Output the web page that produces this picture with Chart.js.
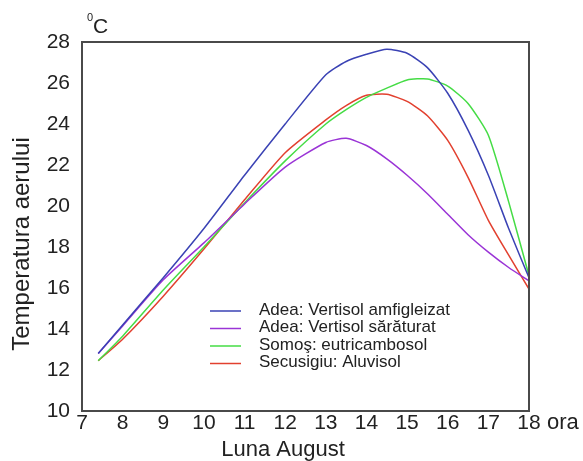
<!DOCTYPE html>
<html><head><meta charset="utf-8">
<script src="https://cdn.jsdelivr.net/npm/chart.js@4/dist/chart.umd.min.js"></script>
<style>html,body{margin:0;padding:0;background:#fff}</style>
</head><body>
<canvas id="c" width="583" height="461"></canvas>
<script>
// ---- data ----
const hours = [7.4, 8, 9, 10, 11, 12, 13, 13.5, 14, 14.5, 15, 15.5, 16, 16.5, 17, 17.5, 18];
const adeaAmfigleizat = [12.8, 14.2, 16.5, 18.9, 21.5, 24.0, 26.4, 27.05, 27.4, 27.65, 27.45, 26.75, 25.5, 23.7, 21.5, 18.9, 16.5];
const adeaSaraturat  = [12.8, 14.15, 16.4, 18.2, 20.1, 21.9, 23.1, 23.3, 22.95, 22.3, 21.5, 20.6, 19.6, 18.6, 17.75, 17.0, 16.35];
const somosEutricambosol = [12.45, 13.65, 15.9, 18.0, 20.15, 22.2, 24.0, 24.7, 25.3, 25.75, 26.15, 26.2, 25.85, 25.0, 23.45, 20.2, 16.6];
const secusigiuAluvisol = [12.45, 13.5, 15.6, 17.9, 20.3, 22.6, 24.2, 24.9, 25.4, 25.45, 25.1, 24.4, 23.2, 21.4, 19.3, 17.6, 15.95];
const seriesLabels = ['Adea: Vertisol amfigleizat', 'Adea: Vertisol sărăturat', 'Somoş: eutricambosol', 'Secusigiu: Aluvisol'];
const seriesColors = ['#3a42b4', '#9a34d6', '#45dc45', '#e2402f'];
const xTickValues = [7, 8, 9, 10, 11, 12, 13, 14, 15, 16, 17, 18];
const yTickValues = [10, 12, 14, 16, 18, 20, 22, 24, 26, 28];
const xUnit = 'ora';
const yUnit = 'C';
const xTitle = 'Luna August';
const yTitle = 'Temperatura aerului';

const FONT = "'Liberation Sans', Arial, sans-serif";
const TXT = '#222';

const seriesValues = [adeaAmfigleizat, adeaSaraturat, somosEutricambosol, secusigiuAluvisol];
const datasets = seriesValues.map((vals, i) => ({
  label: seriesLabels[i],
  data: hours.map((h, j) => ({x: h, y: vals[j]})),
  borderColor: seriesColors[i],
  backgroundColor: seriesColors[i],
  borderWidth: 1.5,
  pointRadius: 0,
  tension: 0.2,
  fill: false
}));

const decor = {
  id: 'decor',
  afterDraw(chart) {
    const ctx = chart.ctx, a = chart.chartArea;
    ctx.save();
    // frame
    ctx.strokeStyle = '#4a4a4a';
    ctx.lineWidth = 2;
    ctx.strokeRect(a.left, a.top, a.right - a.left, a.bottom - a.top);
    ctx.fillStyle = TXT;
    // unit label °C
    ctx.textBaseline = 'alphabetic';
    ctx.textAlign = 'left';
    ctx.font = '11px ' + FONT;
    ctx.fillText('0', a.left + 5, a.top - 21);
    ctx.font = '21px ' + FONT;
    ctx.fillText(yUnit, a.left + 11, a.top - 9);
    // x unit
    const xs = chart.scales.x;
    ctx.font = '22px ' + FONT;
    ctx.textBaseline = 'middle';
    ctx.fillText(xUnit, xs.getPixelForValue(18) + 18, a.bottom + 12);
    // x title
    ctx.textAlign = 'center';
    ctx.fillText(xTitle, 283, a.bottom + 39);
    // y title
    ctx.save();
    ctx.translate(22, 244);
    ctx.rotate(-Math.PI / 2);
    ctx.font = '24px ' + FONT;
    ctx.fillText(yTitle, 0, 0);
    ctx.restore();
    // legend
    ctx.font = '17px ' + FONT;
    ctx.textAlign = 'left';
    chart.data.datasets.forEach((ds, i) => {
      const y = 310 + i * 17.5;
      ctx.strokeStyle = ds.borderColor;
      ctx.lineWidth = 1.5;
      ctx.beginPath();
      ctx.moveTo(210, y + 1);
      ctx.lineTo(241, y + 1);
      ctx.stroke();
      ctx.fillStyle = TXT;
      ctx.fillText(ds.label, 259, y);
    });
    ctx.restore();
  }
};

new Chart(document.getElementById('c'), {
  type: 'line',
  data: { datasets },
  options: {
    responsive: false,
    animation: false,
    devicePixelRatio: 1,
    layout: { padding: { top: 42, right: 54, left: 0, bottom: 0 } },
    plugins: { legend: { display: false }, tooltip: { enabled: false } },
    scales: {
      x: {
        type: 'linear', min: 7, max: 18,
        afterBuildTicks: s => { s.ticks = xTickValues.map(v => ({value: v})); },
        afterFit: s => { s.height = 50; },
        grid: { display: false, drawTicks: false },
        border: { display: false },
        ticks: { font: { size: 21, family: FONT }, color: TXT, padding: 0, maxRotation: 0, autoSkip: false }
      },
      y: {
        type: 'linear', min: 10, max: 28,
        afterBuildTicks: s => { s.ticks = yTickValues.map(v => ({value: v})); },
        afterFit: s => { s.width = 82; },
        grid: { display: false, drawTicks: false },
        border: { display: false },
        ticks: { font: { size: 21, family: FONT }, color: TXT, padding: 12 }
      }
    }
  },
  plugins: [decor]
});
</script>
</body></html>
